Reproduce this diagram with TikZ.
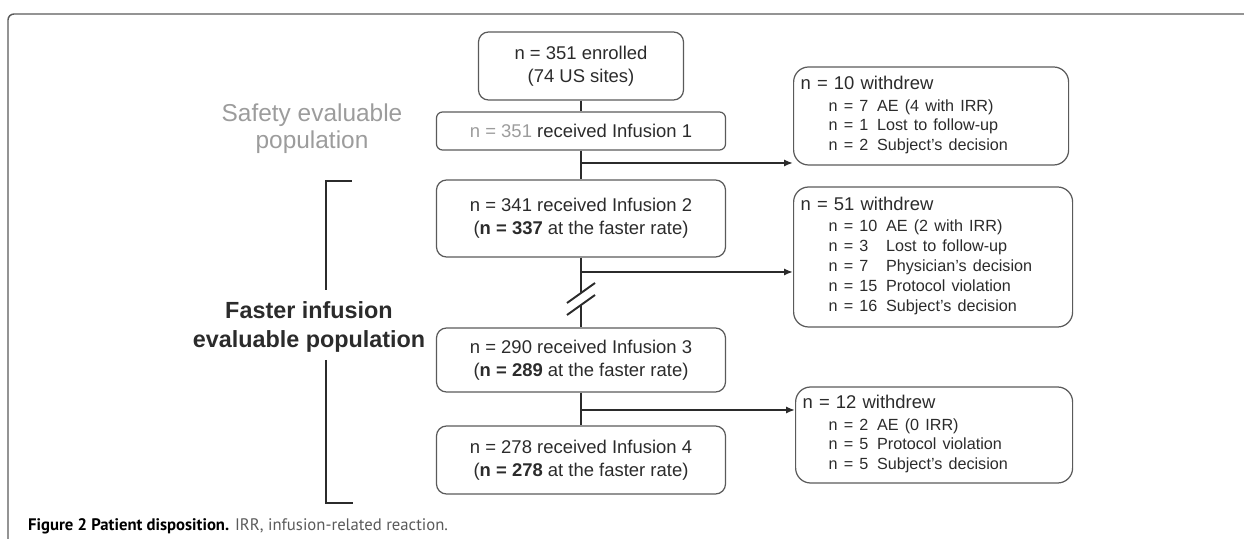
\documentclass[tikz,border=0pt]{standalone}
\usepackage{fontspec}
\setmainfont{Liberation Sans}
\newfontfamily\capfont{PT Sans}
\usetikzlibrary{arrows.meta}
\definecolor{ink}{HTML}{2B2B2B}
\definecolor{pale}{HTML}{9C9C9C}
\definecolor{rim}{HTML}{5A5A5A}

\begin{document}
\begin{tikzpicture}
        [box/.style={draw=rim, line width=0.7pt, rounded corners=0.2cm, minimum width=5.78cm, align=center, text=ink, font=\fontsize{10.5}{13}\selectfont},
        wdbox/.style={draw=rim, line width=0.7pt, rounded corners=0.3cm, anchor=west, inner xsep=0.14cm, text width=5.22cm, align=left, text=ink, font=\fontsize{10.5}{12.5}\selectfont},
        link/.style={draw=ink, line width=1.1pt},
        >={Latex[length=5pt,width=4pt]}]
        \useasboundingbox (0,0) rectangle (24.88,-10.78);

        % frame of the figure
        \draw[rim, line width=0.8pt, rounded corners=0.12cm] (24.88,-0.28) -- (0.16,-0.28) -- (0.16,-10.78);

        \node[box, minimum width=4.1cm, minimum height=1.36cm] (enr) at (11.62,-1.32) {n = 351 enrolled\\(74 US sites)};
        \node[box, minimum height=0.76cm, rounded corners=0.12cm] (inf1) at (11.62,-2.62) {\textcolor{pale}{n = 351} received Infusion 1};
        \node[box, minimum height=1.54cm] (inf2) at (11.62,-4.37) {n = 341 received Infusion 2\\(\textbf{n = 337} at the faster rate)};
        \node[box, minimum height=1.28cm] (inf3) at (11.62,-7.2) {n = 290 received Infusion 3\\(\textbf{n = 289} at the faster rate)};
        \node[box, minimum height=1.36cm] (inf4) at (11.62,-9.2) {n = 278 received Infusion 4\\(\textbf{n = 278} at the faster rate)};

        \node[wdbox, minimum height=1.96cm] (wd1) at (15.86,-2.32) {n = 10 withdrew\\
            \hspace*{0.56cm}{\fontsize{9.2}{11}\selectfont\begin{tabular}[t]{@{}l@{\hspace{5pt}}l@{}}
            n = 7 & AE (4 with IRR)\\ n = 1 & Lost to follow-up\\ n = 2 & Subject's decision\end{tabular}}};
        \node[wdbox, minimum height=2.8cm, text width=5.3cm] (wd2) at (15.86,-5.14) {n = 51 withdrew\\
            \hspace*{0.56cm}{\fontsize{9.2}{11.3}\selectfont\begin{tabular}[t]{@{}l@{\hspace{5pt}}l@{}}
            n = 10 & AE (2 with IRR)\\ n = 3 & Lost to follow-up\\ n = 7 & Physician's decision\\
            n = 15 & Protocol violation\\ n = 16 & Subject's decision\end{tabular}}};
        \node[wdbox, minimum height=1.92cm, text width=5.26cm] (wd3) at (15.9,-8.7) {n = 12 withdrew\\
            \hspace*{0.52cm}{\fontsize{9.2}{11}\selectfont\begin{tabular}[t]{@{}l@{\hspace{5pt}}l@{}}
            n = 2 & AE (0 IRR)\\ n = 5 & Protocol violation\\ n = 5 & Subject's decision\end{tabular}}};

        \node[text=pale, align=center, font=\fontsize{13.9}{15.3}\selectfont] (safe) at (6.24,-2.57) {Safety evaluable\\population};
        \node[text=ink, align=center, font=\bfseries\fontsize{13.3}{17}\selectfont] (fast) at (6.18,-6.54) {Faster infusion\\evaluable population};

        % bracket round the faster infusion population
        \draw[link] (6.52,-5.8) -- (6.52,-3.62) -- (7.04,-3.62);
        \draw[link] (6.52,-7.2) -- (6.52,-10.06) -- (7.06,-10.06);

        \coordinate (b1) at (11.62,-3.26);
        \coordinate (b2) at (11.62,-5.44);
        \coordinate (b3) at (11.62,-8.2);
        \coordinate (cut1) at (11.62,-5.86);
        \coordinate (cut2) at (11.62,-6.1);

        \draw[link] (enr) -- (inf1);
        \draw[link] (inf1) -- (inf2);
        \draw[link] (inf2) -- (cut1);
        \draw[link] (cut2) -- (inf3);
        \draw[link] (inf3) -- (inf4);
        \draw[link] ([shift={(-0.28,-0.2)}]cut1) -- ([shift={(0.28,0.2)}]cut1);
        \draw[link] ([shift={(-0.28,-0.2)}]cut2) -- ([shift={(0.28,0.2)}]cut2);

        \draw[link, ->] (b1) -- (b1 -| wd1.west);
        \draw[link, ->] (b2) -- (b2 -| wd2.west);
        \draw[link, ->] (b3) -- (b3 -| wd3.west);

        \node[anchor=west, font=\capfont\fontsize{9.5}{11}\selectfont] (cap) at (0.44,-10.52) {\textbf{Figure 2 Patient disposition.} \textcolor{rim}{IRR, infusion-related reaction.}};
    \end{tikzpicture}
\end{document}
